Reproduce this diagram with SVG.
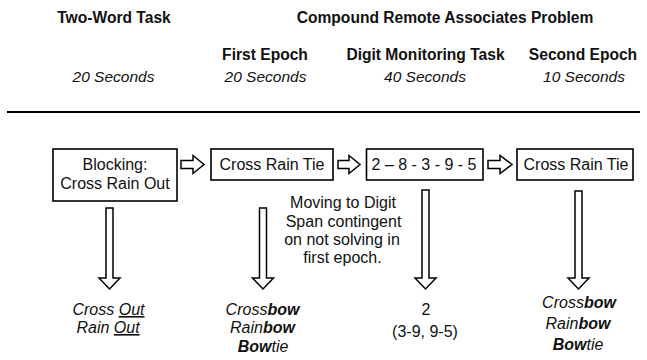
<svg xmlns="http://www.w3.org/2000/svg" width="647" height="360" viewBox="0 0 647 360">
<style>
text{font-family:"Liberation Sans",Arial,sans-serif;fill:#111;text-anchor:middle}
.h{font-size:15.6px;font-weight:bold}
.s{font-size:15.5px;font-style:italic}
.t{font-size:16px}
.i{font-size:16px;font-style:italic}
.b{font-weight:bold}
.u{text-decoration:underline}
.box{fill:#fff;stroke:#000;stroke-width:1.6}
.arr{fill:#fff;stroke:#000;stroke-width:1.5;stroke-linejoin:miter}
</style>
<rect width="647" height="360" fill="#fff"/>
<g id="headers">
<text class="h" x="114" y="23">Two-Word Task</text>
<text class="h" x="445" y="23">Compound Remote Associates Problem</text>
<text class="h" x="265" y="60">First Epoch</text>
<text class="h" x="425.5" y="60">Digit Monitoring Task</text>
<text class="h" x="583" y="60">Second Epoch</text>
<text class="s" x="113.5" y="82">20 Seconds</text>
<text class="s" x="265.5" y="82">20 Seconds</text>
<text class="s" x="425" y="82">40 Seconds</text>
<text class="s" x="584" y="82">10 Seconds</text>
<line x1="7" y1="112" x2="640" y2="112" stroke="#000" stroke-width="2"/>
</g>
<g id="n1">
<rect class="box" x="53" y="149" width="124" height="52"/>
<text class="t" x="115" y="170">Blocking:</text>
<text class="t" x="115" y="189">Cross Rain Out</text>
</g>
<g id="n2">
<rect class="box" x="211" y="149" width="122" height="31"/>
<text class="t" x="272" y="170">Cross Rain Tie</text>
</g>
<g id="n3">
<rect class="box" x="366.5" y="149" width="116.5" height="31"/>
<text class="t" x="424" y="170">2 – 8 - 3 - 9 - 5</text>
</g>
<g id="n4">
<rect class="box" x="517" y="149" width="116" height="31"/>
<text class="t" x="576" y="170">Cross Rain Tie</text>
</g>
<g id="note">
<text class="t" x="343" y="208">Moving to Digit</text>
<text class="t" x="343.5" y="227">Span contingent</text>
<text class="t" x="342" y="245">on not solving in</text>
<text class="t" x="342.5" y="263">first epoch.</text>
</g>
<g id="r1">
<text class="i" x="108.5" y="315">Cross <tspan class="u">Out</tspan></text>
<text class="i" x="108" y="333">Rain <tspan class="u">Out</tspan></text>
</g>
<g id="r2">
<text class="i" x="262.5" y="315">Cross<tspan class="b">bow</tspan></text>
<text class="i" x="262.5" y="333">Rain<tspan class="b">bow</tspan></text>
<text class="i" x="263" y="352"><tspan class="b">Bow</tspan>tie</text>
</g>
<g id="r3">
<text class="t" x="426" y="315">2</text>
<text class="t" x="425" y="337">(3-9, 9-5)</text>
</g>
<g id="r4">
<text class="i" x="579" y="308">Cross<tspan class="b">bow</tspan></text>
<text class="i" x="578" y="329">Rain<tspan class="b">bow</tspan></text>
<text class="i" x="578" y="350"><tspan class="b">Bow</tspan>tie</text>
</g>
<g id="connectors">
<path class="arr" d="M181,160.5H193V155.5L204,164.5L193,173.5V168.5H181Z"/>
<path class="arr" d="M338,160.5H349V155.5L360,164.5L349,173.5V168.5H338Z"/>
<path class="arr" d="M488,160.5H500V155.5L512,164.5L500,173.5V168.5H488Z"/>
<path class="arr" d="M106,208H113V278H120L109.5,289L99,278H106Z"/>
<path class="arr" d="M259.5,208H266.5V278H273.5L263,289L252.5,278H259.5Z"/>
<path class="arr" d="M422,190H429V278H436L425.5,289L415,278H422Z"/>
<path class="arr" d="M575,191H582V278H589L578.5,289L568,278H575Z"/>
</g>
</svg>
